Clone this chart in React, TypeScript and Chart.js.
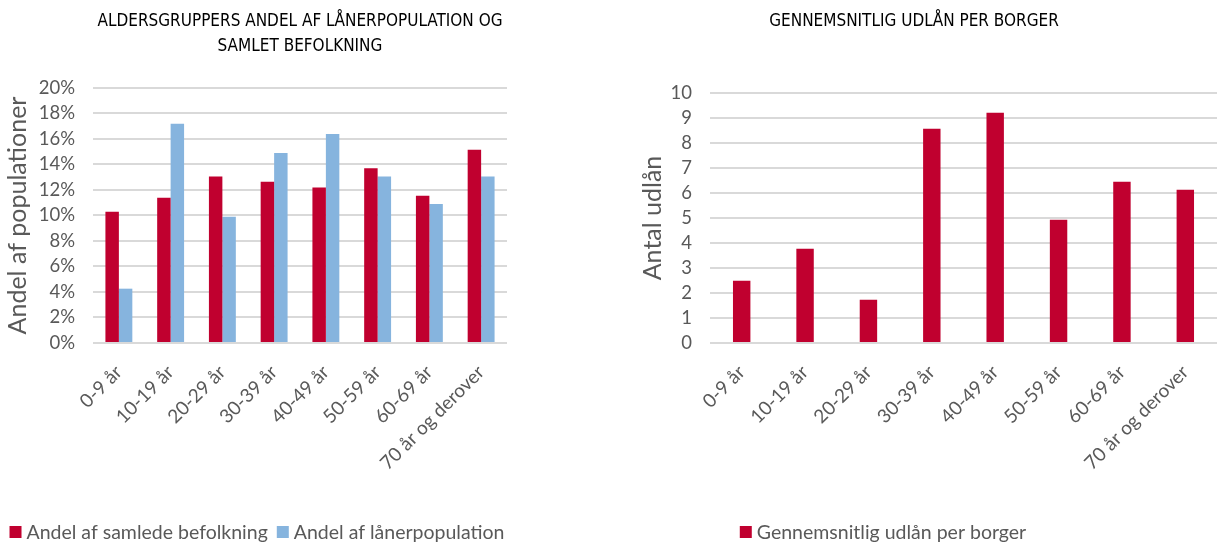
import React, { useEffect, useRef } from "react";
import { Chart, registerables } from "chart.js";

Chart.register(...registerables);

const categories = [
  "0-9 år",
  "10-19 år",
  "20-29 år",
  "30-39 år",
  "40-49 år",
  "50-59 år",
  "60-69 år",
  "70 år og derover",
];
const andelSamledeBefolkning = [0.103, 0.114, 0.1305, 0.1265, 0.122, 0.137, 0.1155, 0.1515];
const andelLaanerpopulation = [0.0426, 0.172, 0.099, 0.149, 0.164, 0.1305, 0.109, 0.1305];
const udlaanPerBorger = [2.49, 3.77, 1.73, 8.57, 9.21, 4.93, 6.45, 6.13];

const leftTitle = ["ALDERSGRUPPERS ANDEL AF LÅNERPOPULATION OG", "SAMLET BEFOLKNING"];
const rightTitle = "GENNEMSNITLIG UDLÅN PER BORGER";
const leftAxisTitle = "Andel af populationer";
const rightAxisTitle = "Antal udlån";
const leftSeriesNames = ["Andel af samlede befolkning", "Andel af lånerpopulation"];
const rightSeriesNames = ["Gennemsnitlig udlån per borger"];

const RED = "#C0002F";
const BLUE = "#86B4DE";
const GREY = "#595959";
const GRID = "#D9D9D9";
const BODY_FONT = "Lato, 'Open Sans', sans-serif";
const TITLE_FONT = "'Liberation Sans Narrow', 'DejaVu Sans Condensed', sans-serif";

const bottomLegend = {
  id: "bottomLegend",
  afterDraw(chart: any, _args: any, opts: any) {
    const ctx = chart.ctx;
    ctx.save();
    ctx.font = `${opts.size}px ${opts.family}`;
    const items = chart.data.datasets.map((ds: any) => ({ text: ds.label, color: ds.backgroundColor }));
    const widths = items.map((it: any) => opts.box + opts.boxGap + ctx.measureText(it.text).width);
    const total = widths.reduce((a: number, b: number) => a + b, 0) + opts.itemGap * (items.length - 1);
    let x = opts.cx - total / 2;
    items.forEach((it: any, i: number) => {
      ctx.fillStyle = it.color;
      ctx.fillRect(x, opts.cy - opts.box / 2, opts.box, opts.box);
      ctx.fillStyle = opts.color;
      ctx.textBaseline = "middle";
      ctx.textAlign = "left";
      ctx.fillText(it.text, x + opts.box + opts.boxGap, opts.cy + 1);
      x += widths[i] + opts.itemGap;
    });
    ctx.restore();
  },
};

function makeOptions(p: {
  title: string | string[];
  titleBottom: number;
  yMax: number;
  yStep: number;
  yFormat: (v: number) => string;
  yTitle: string;
  yWidth: number;
  yTitleOffset: number;
  rightSpace: number;
  legendCx: number;
}) {
  return {
    responsive: false,
    animation: false,
    devicePixelRatio: 1,
    layout: { padding: 0 },
    plugins: {
      legend: { display: false },
      tooltip: { enabled: false },
      title: {
        display: true,
        text: p.title,
        color: "#000",
        font: { family: TITLE_FONT, size: 17, weight: "normal", lineHeight: 1.47 },
        padding: { top: 9.5, bottom: p.titleBottom },
      },
      bottomLegend: {
        cx: p.legendCx,
        cy: 532,
        size: 19.5,
        family: BODY_FONT,
        color: GREY,
        box: 12,
        boxGap: 5,
        itemGap: 9,
      },
    },
    scales: {
      x: {
        grid: { display: false, drawTicks: false },
        border: { display: false },
        ticks: {
          color: GREY,
          font: { family: BODY_FONT, size: 19 },
          minRotation: 45,
          maxRotation: 45,
          autoSkip: false,
          padding: 18,
        },
        afterFit(scale: any) {
          scale.height = 202;
        },
      },
      y: {
        min: 0,
        max: p.yMax,
        grid: { color: GRID, lineWidth: 2, drawTicks: false },
        border: { display: false },
        ticks: {
          stepSize: p.yStep,
          autoSkip: false,
          color: GREY,
          font: { family: BODY_FONT, size: 18.5 },
          padding: 18,
          callback: (v: any) => p.yFormat(Number(v)),
        },
        title: {
          display: true,
          text: p.yTitle,
          color: GREY,
          font: { family: BODY_FONT, size: 25, lineHeight: 1.2 },
          padding: { top: p.yTitleOffset, bottom: 0 },
        },
        afterFit(scale: any) {
          scale.width = p.yWidth;
        },
      },
      spacer: {
        type: "linear",
        position: "right",
        display: true,
        grid: { display: false, drawTicks: false },
        border: { display: false },
        ticks: { display: false },
        afterFit(scale: any) {
          scale.width = p.rightSpace;
        },
      },
    },
  };
}

function LeftChart() {
  const ref = useRef<HTMLCanvasElement>(null);
  useEffect(() => {
    if (!ref.current) return;
    const chart = new Chart(ref.current, {
      type: "bar",
      data: {
        labels: categories,
        datasets: [
          {
            label: leftSeriesNames[0],
            data: andelSamledeBefolkning,
            backgroundColor: RED,
            categoryPercentage: 0.52,
            barPercentage: 1,
          },
          {
            label: leftSeriesNames[1],
            data: andelLaanerpopulation,
            backgroundColor: BLUE,
            categoryPercentage: 0.52,
            barPercentage: 1,
          },
        ],
      },
      options: makeOptions({
        title: leftTitle,
        titleBottom: 28.5,
        yMax: 0.2,
        yStep: 0.02,
        yFormat: (v) => `${Math.round(v * 100)}%`,
        yTitle: leftAxisTitle,
        yWidth: 93,
        yTitleOffset: 3,
        rightSpace: 93,
        legendCx: 257,
      }) as any,
      plugins: [bottomLegend],
    });
    return () => chart.destroy();
  }, []);
  return <canvas ref={ref} width={600} height={545} style={{ width: 600, height: 545, display: "block" }} />;
}

function RightChart() {
  const ref = useRef<HTMLCanvasElement>(null);
  useEffect(() => {
    if (!ref.current) return;
    const chart = new Chart(ref.current, {
      type: "bar",
      data: {
        labels: categories,
        datasets: [
          {
            label: rightSeriesNames[0],
            data: udlaanPerBorger,
            backgroundColor: RED,
            categoryPercentage: 0.275,
            barPercentage: 1,
          },
        ],
      },
      options: makeOptions({
        title: rightTitle,
        titleBottom: 58.5,
        yMax: 10,
        yStep: 1,
        yFormat: (v) => `${v}`,
        yTitle: rightAxisTitle,
        yWidth: 110,
        yTitleOffset: 38,
        rightSpace: 11,
        legendCx: 283,
      }) as any,
      plugins: [bottomLegend],
    });
    return () => chart.destroy();
  }, []);
  return <canvas ref={ref} width={628} height={545} style={{ width: 628, height: 545, display: "block" }} />;
}

export default function App() {
  return (
    <div style={{ position: "absolute", left: 0, top: 0, width: 1220, height: 545, background: "#fff", overflow: "hidden" }}>
      <div style={{ position: "absolute", left: 0, top: 0 }}>
        <LeftChart />
      </div>
      <div style={{ position: "absolute", left: 600, top: 0 }}>
        <RightChart />
      </div>
    </div>
  );
}
